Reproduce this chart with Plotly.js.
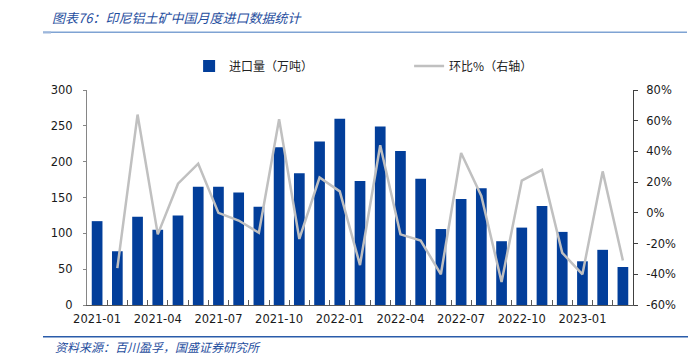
<!DOCTYPE html>
<html>
<head>
<meta charset="utf-8">
<script src="https://cdn.plot.ly/plotly-3.0.1.min.js"></script>
<style>
html,body{margin:0;padding:0;background:#fff;}
#chart{width:699px;height:363px;}
</style>
</head>
<body>
<div id="chart"></div>
<script>
// ---- data ----
const months = ["2021-01","2021-02","2021-03","2021-04","2021-05","2021-06","2021-07","2021-08","2021-09",
  "2021-10","2021-11","2021-12","2022-01","2022-02","2022-03","2022-04","2022-05","2022-06",
  "2022-07","2022-08","2022-09","2022-10","2022-11","2022-12","2023-01","2023-02","2023-03"];
const importVolume = [117,75,123,105,125,165,165,157,137,220,184,228,260,173,249,215,176,106,148,163,89,108,138,102,61,77,53];
const momPct = [null,-36,64,-14,19,32,0,-5,-13,61,-17,23,14,-34,44,-14,-18,-40,39,11,-45,21,28,-26,-40,27,-31];
const xTickLabels = ["2021-01","","","2021-04","","","2021-07","","","2021-10","","","2022-01","","",
  "2022-04","","","2022-07","","","2022-10","","","2023-01","",""];
const leftTicks = [0,50,100,150,200,250,300];
const rightTickVals = [-60,-40,-20,0,20,40,60,80];
const rightTickText = ["-60%","-40%","-20%","0%","20%","40%","60%","80%"];
const titleText = "图表76：印尼铝土矿中国月度进口数据统计";
const sourceText = "资料来源：百川盈孚，国盛证券研究所";
const seriesNames = ["进口量（万吨）","环比%（右轴）"];

const tickFont = {family: "DejaVu Sans, sans-serif", size: 11.5, color: "#1a1a1a"};
const cjk = "Noto Sans CJK SC, sans-serif";

const traces = [
  {type: "bar", x: months, y: importVolume, name: seriesNames[0],
   marker: {color: "#023E9A"}, yaxis: "y"},
  {type: "scatter", mode: "lines", x: months, y: momPct, name: seriesNames[1],
   line: {color: "#C0C0C0", width: 2.5}, yaxis: "y2", connectgaps: false}
];

const layout = {
  width: 699, height: 363,
  margin: {l: 87, r: 66, t: 90, b: 58},
  paper_bgcolor: "#fff", plot_bgcolor: "#fff",
  bargap: 0.47,
  showlegend: true,
  legend: {orientation: "h", x: 0.187, xanchor: "left", y: 1.112, yanchor: "middle",
    font: {family: cjk, size: 12, color: "#222"}, entrywidth: 175, entrywidthmode: "pixels",
    bgcolor: "rgba(0,0,0,0)", traceorder: "normal"},
  title: {text: titleText, xref: "container", yref: "container", x: 52/699, xanchor: "left",
    y: 1 - 18/363, yanchor: "middle",
    font: {family: cjk, size: 13, color: "#1F4E9E", style: "italic"}},
  xaxis: {type: "category", tickmode: "array", tickvals: months, ticktext: xTickLabels,
    tickangle: 0, tickson: "boundaries", ticks: "inside", ticklen: 5, tickcolor: "#595959",
    showline: true, linecolor: "#595959", linewidth: 1, showgrid: false, zeroline: false,
    tickfont: tickFont, ticklabelstandoff: 3, fixedrange: true},
  yaxis: {range: [0, 300], tickmode: "array", tickvals: leftTicks, ticks: "outside", ticklen: 3,
    tickcolor: "#868686", showline: true, linecolor: "#868686", linewidth: 1, showgrid: false,
    zeroline: false, tickfont: tickFont, ticklabelstandoff: 8},
  yaxis2: {overlaying: "y", side: "right", range: [-60, 80], tickmode: "array",
    tickvals: rightTickVals, ticktext: rightTickText, ticks: "outside", ticklen: 4,
    tickcolor: "#404040", showline: true, linecolor: "#404040", linewidth: 1, showgrid: false,
    zeroline: false, tickfont: tickFont, ticklabelstandoff: 6},
  shapes: [
    {type: "line", xref: "paper", yref: "paper", x0: (43-87)/546, x1: (687-87)/546,
     y0: (305-32.3)/215, y1: (305-32.3)/215, line: {color: "#7FA3D3", width: 1.5}},
    {type: "line", xref: "paper", yref: "paper", x0: (43-87)/546, x1: (51-87)/546,
     y0: (305-32.5)/215, y1: (305-32.5)/215, line: {color: "#9DB6DB", width: 2}},
    {type: "line", xref: "paper", yref: "paper", x0: (43-87)/546, x1: (688-87)/546,
     y0: (305-336.7)/215, y1: (305-336.7)/215, line: {color: "#2A5CAA", width: 1.5}}
  ],
  annotations: [
    {text: sourceText, xref: "paper", yref: "paper", x: (53-87)/546, xanchor: "left",
     y: (305-346)/215, yanchor: "middle", showarrow: false,
     font: {family: cjk, size: 12, color: "#1F4E9E", style: "italic"}}
  ]
};

Plotly.newPlot("chart", traces, layout, {displayModeBar: false, staticPlot: true});
</script>
</body>
</html>
